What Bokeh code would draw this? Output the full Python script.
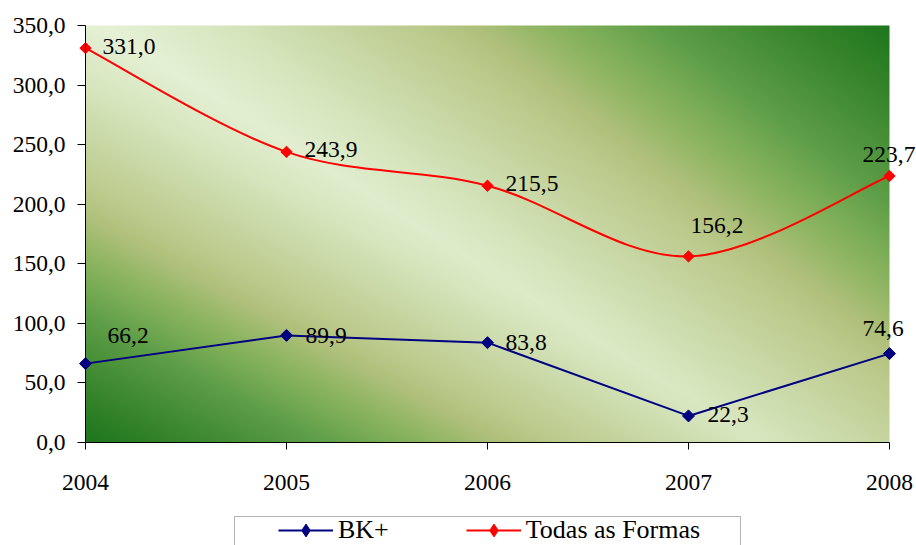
import numpy as np
from bokeh.plotting import figure
from bokeh.models import (ColumnDataSource, LinearAxis, FixedTicker, Legend, LegendItem,
                          LabelSet, BoxAnnotation, Range1d)
from bokeh.embed import file_html
from bokeh.resources import INLINE

# ---- data -------------------------------------------------------------
years = [2004, 2005, 2006, 2007, 2008]
bk_plus = [66.2, 89.9, 83.8, 22.3, 74.6]
todas_formas = [331.0, 243.9, 215.5, 156.2, 223.7]
series_names = ["BK+", "Todas as Formas"]

x_ticks = years
x_tick_labels = ["2004", "2005", "2006", "2007", "2008"]
y_ticks = [0, 50, 100, 150, 200, 250, 300, 350]
y_tick_labels = ["0,0", "50,0", "100,0", "150,0", "200,0", "250,0", "300,0", "350,0"]

# data-label nudges in screen pixels (dx right, dy up)
bk_label_dx = [22, 19, 18, 19, -27]
bk_label_dy = [28, 0, 0, 1, 25]
tf_label_dx = [17, 18, 18, 2, -27]
tf_label_dy = [2, 2, 2, 31, 21]

# ---- layout geometry (pixels) -----------------------------------------
# The frame fills the whole canvas; axes sit at fixed data locations inside it.
W, H = 916, 545
FL, FR, FT, FB = 0, W, 0, H
X0, X1 = 85, 889                            # pixel of first / last year
Y0, Y1 = 442, 25                            # pixel of y = 0 / y = 350
ppx = (X1 - X0) / (years[-1] - years[0])
ppy = (Y0 - Y1) / (y_ticks[-1] - y_ticks[0])
x_start = years[0] - (X0 - FL) / ppx
x_end = years[-1] + (FR - X1) / ppx
y_start = y_ticks[0] - (FB - Y0) / ppy
y_end = y_ticks[-1] + (Y1 - FT) / ppy


def xd(px):
    return x_start + (px - FL) / ppx


def yd(py):
    return y_start + (FB - py) / ppy


FONT = "Liberation Serif"
RED = "#FF0000"
NAVY = "#000080"

p = figure(width=W, height=H, x_range=Range1d(x_start, x_end), y_range=Range1d(y_start, y_end),
           x_axis_location=None, y_axis_location=None,
           output_backend="svg", toolbar_location=None,
           min_border_left=0, min_border_right=0, min_border_top=0, min_border_bottom=0)
p.grid.visible = False
p.outline_line_color = None
p.background_fill_color = "white"
p.border_fill_color = "white"

# ---- plot-area gradient fill --------------------------------------------
# light diagonal band, greening towards the top-right and bottom-left corners
iw, ih = X1 - X0, Y0 - Y1
gx = np.linspace(X0, X1, iw)[None, :]
gy = np.linspace(Y1, Y0, ih)[:, None]           # screen y, top row first
upper = 0.001267 * gx - 0.001655 * gy - 0.0906
lower = -0.001278 * gx + 0.00236 * gy + 0.0656
level = np.clip(np.maximum(upper, lower), 0.0, 1.0)
stops = [0.0, 0.15, 0.3, 0.4, 0.47, 0.55, 0.62, 0.7, 0.8, 0.9, 1.0]
ramp = [(230, 241, 214), (215, 230, 190), (198, 213, 160), (188, 202, 140),
        (175, 192, 122), (145, 182, 100), (122, 172, 86), (95, 158, 72),
        (72, 144, 55), (50, 130, 40), (30, 118, 30)]
rgba = np.zeros((ih, iw, 4), dtype=np.uint8)
for c in range(3):
    rgba[:, :, c] = np.interp(level, stops, [col[c] for col in ramp]).astype(np.uint8)
rgba[:, :, 3] = 255
img = rgba[::-1].copy().view(dtype=np.uint32).reshape(ih, iw)
p.image_rgba(image=[img], x=years[0], y=y_ticks[0],
             dw=years[-1] - years[0], dh=y_ticks[-1] - y_ticks[0])

# ---- axes ---------------------------------------------------------------
yaxis = LinearAxis(fixed_location=years[0], bounds=(y_ticks[0], y_ticks[-1]),
                   ticker=FixedTicker(ticks=y_ticks),
                   major_label_overrides=dict(zip(y_ticks, y_tick_labels)))
xaxis = LinearAxis(fixed_location=y_ticks[0], bounds=(years[0], years[-1]),
                   ticker=FixedTicker(ticks=x_ticks),
                   major_label_overrides=dict(zip(x_ticks, x_tick_labels)))
for ax in (yaxis, xaxis):
    ax.axis_line_color = "black"
    ax.axis_line_width = 1
    ax.major_tick_line_color = "black"
    ax.major_tick_in = 0
    ax.minor_tick_line_color = None
    ax.major_label_text_font = FONT
    ax.major_label_text_font_size = "23.5px"
    ax.major_label_text_color = "black"
yaxis.major_tick_out = 8
yaxis.major_label_standoff = 12
xaxis.major_tick_out = 7
xaxis.major_label_standoff = 25
p.add_layout(yaxis, "left")
p.add_layout(xaxis, "below")

# ---- series -------------------------------------------------------------
bk_src = ColumnDataSource(dict(x=years, y=bk_plus,
                               label=[f"{v:.1f}".replace(".", ",") for v in bk_plus],
                               dx=bk_label_dx, dy=bk_label_dy))
tf_src = ColumnDataSource(dict(x=years, y=todas_formas,
                               label=[f"{v:.1f}".replace(".", ",") for v in todas_formas],
                               dx=tf_label_dx, dy=tf_label_dy))

bk_line = p.line("x", "y", source=bk_src, line_color=NAVY, line_width=2)
bk_pts = p.scatter("x", "y", source=bk_src, marker="square", angle=np.pi / 4,
                   size=8.5, fill_color=NAVY, line_color=NAVY)

# smoothed curve: cubic Bezier segments with Catmull-Rom style handles (1/6 tension)
xs = np.array(years, dtype=float)
ys = np.array(todas_formas, dtype=float)
n = len(xs)
seg = dict(x0=[], y0=[], x1=[], y1=[], cx0=[], cy0=[], cx1=[], cy1=[])
for i in range(n - 1):
    a, b = max(i - 1, 0), min(i + 2, n - 1)
    seg["x0"].append(xs[i]); seg["y0"].append(ys[i])
    seg["x1"].append(xs[i + 1]); seg["y1"].append(ys[i + 1])
    seg["cx0"].append(xs[i] + (xs[i + 1] - xs[a]) / 6)
    seg["cy0"].append(ys[i] + (ys[i + 1] - ys[a]) / 6)
    seg["cx1"].append(xs[i + 1] - (xs[b] - xs[i]) / 6)
    seg["cy1"].append(ys[i + 1] - (ys[b] - ys[i]) / 6)
tf_curve = p.bezier(x0="x0", y0="y0", x1="x1", y1="y1", cx0="cx0", cy0="cy0",
                    cx1="cx1", cy1="cy1", source=ColumnDataSource(seg),
                    line_color=RED, line_width=2)
tf_pts = p.scatter("x", "y", source=tf_src, marker="square", angle=np.pi / 4,
                   size=8, fill_color=RED, line_color=RED)

# diamond markers used only for the legend swatches
bk_key = p.scatter("x", "y", source=bk_src, marker="diamond", fill_color=NAVY,
                   line_color=NAVY, visible=False)
tf_key = p.scatter("x", "y", source=tf_src, marker="diamond", fill_color=RED,
                   line_color=RED, visible=False)

# ---- data labels ----------------------------------------------------------
for src in (bk_src, tf_src):
    p.add_layout(LabelSet(x="x", y="y", text="label", source=src,
                          x_offset="dx", y_offset="dy",
                          text_font=FONT, text_font_size="23.5px", text_color="black",
                          text_align="left", text_baseline="middle"))

# ---- legend ---------------------------------------------------------------
frame_box = BoxAnnotation(left=xd(234), right=xd(740), top=yd(516), bottom=yd(600),
                          fill_color="white", fill_alpha=1.0,
                          line_color="black", line_width=1)
p.add_layout(frame_box)

legend = Legend(items=[LegendItem(label=series_names[0], renderers=[bk_line, bk_key]),
                       LegendItem(label=series_names[1], renderers=[tf_curve, tf_key])],
                orientation="horizontal", location=(272 - FL, FB - 516 - 44 + 8),
                padding=6, spacing=77, margin=0, glyph_width=55, glyph_height=32,
                label_standoff=5, label_height=24,
                label_text_font=FONT, label_text_font_size="26px",
                label_text_color="black", click_policy="none",
                inactive_fill_alpha=0.0,
                background_fill_alpha=0.0, border_line_alpha=0.0)
p.add_layout(legend)

open("out.html", "w").write(file_html(p, INLINE))
